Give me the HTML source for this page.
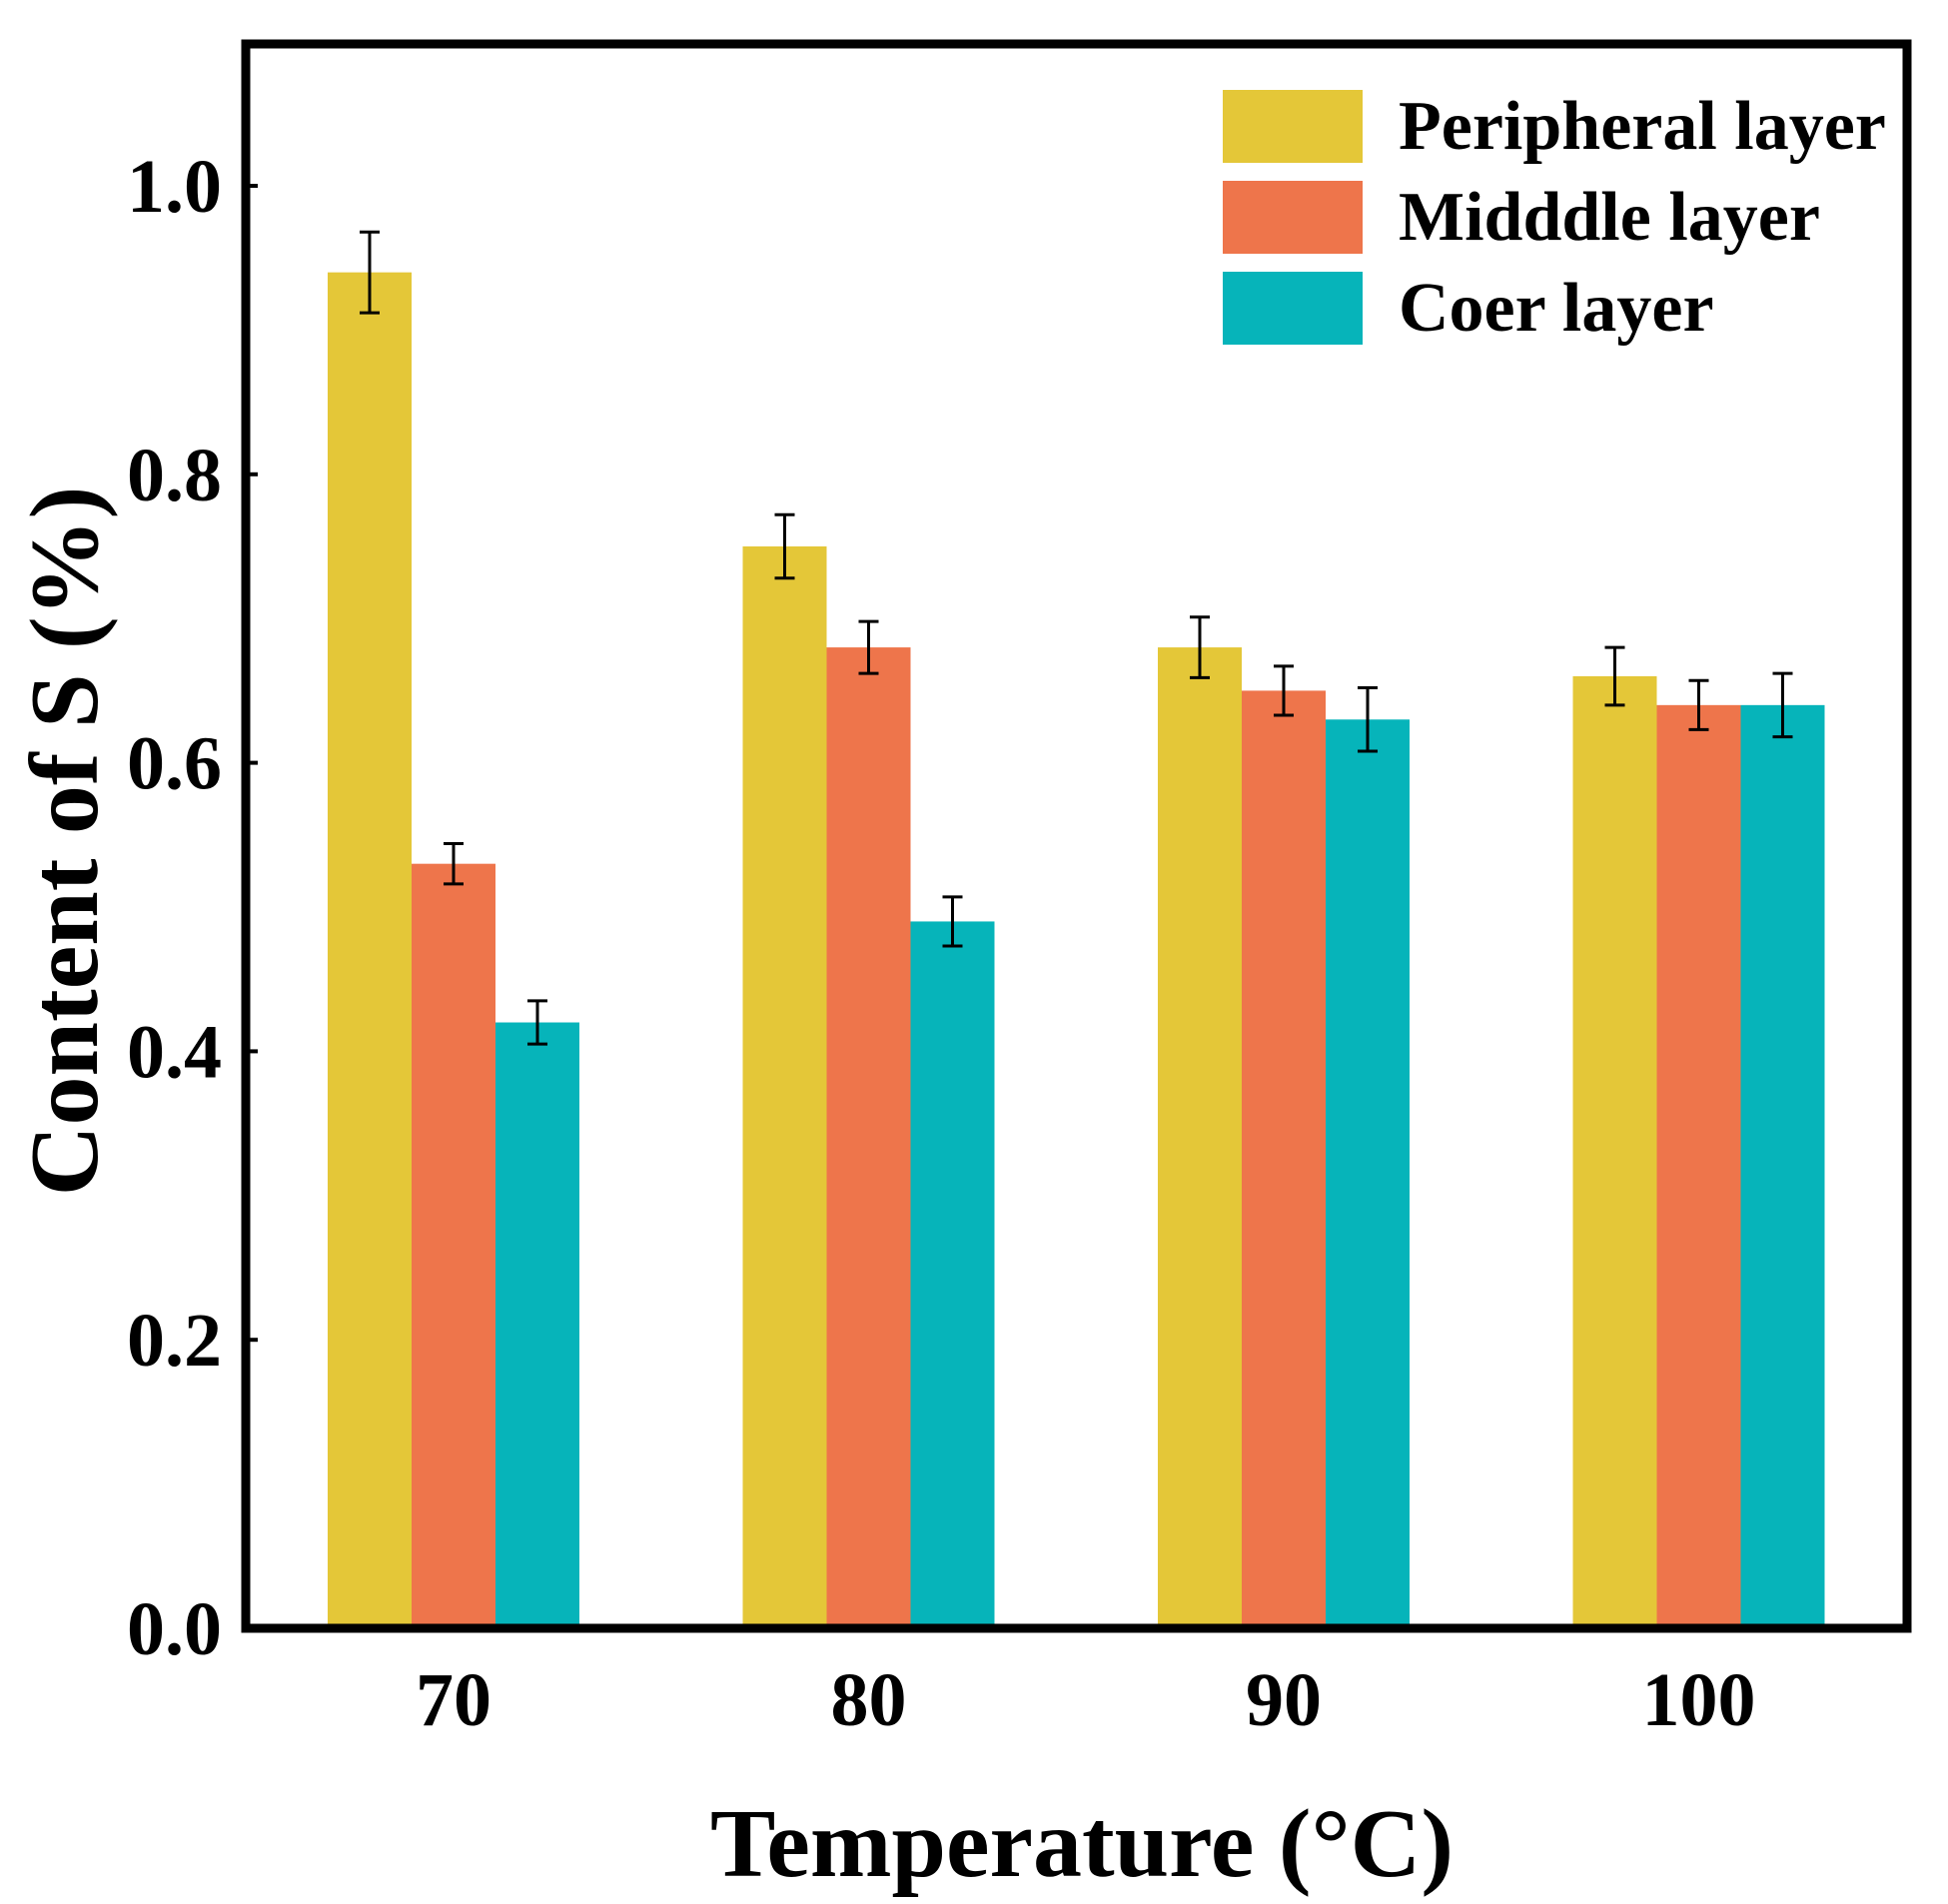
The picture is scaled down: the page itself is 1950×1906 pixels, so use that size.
<!DOCTYPE html>
<html><head><meta charset="utf-8"><style>
html,body{margin:0;padding:0;background:#fff;}
svg{display:block;font-family:"Liberation Serif",serif;font-weight:bold;}
</style></head><body>
<svg id="chart" width="1950" height="1906" viewBox="0 0 1950 1906" xmlns="http://www.w3.org/2000/svg">
<g id="bars"></g>
<g id="errs"></g>
<g id="axes"></g>
<g id="legend"></g>
<text x="1083" y="1878" font-size="98" text-anchor="middle">Temperature (°C)</text>
<text transform="translate(97,842) rotate(-90)" font-size="98" text-anchor="middle">Content of S (%)</text>
</svg>
<script>
const categories = ["70","80","90","100"];
const seriesNames = ["Peripheral layer","Midddle layer","Coer layer"];
const peripheral = [0.94,0.75,0.68,0.66];
const middle = [0.53,0.68,0.65,0.64];
const core = [0.42,0.49,0.63,0.64];
const peripheralErr = [0.028,0.022,0.021,0.020];
const middleErr = [0.014,0.018,0.017,0.017];
const coreErr = [0.015,0.017,0.022,0.022];
const yTicks = [0.0,0.2,0.4,0.6,0.8,1.0];
const yTickLabels = ["0.0","0.2","0.4","0.6","0.8","1.0"];
const colors = ["#E4C738","#EE754B","#06B4BA"];

const NS="http://www.w3.org/2000/svg";
const L=246,R=1909,T=44,B=1630;
const y=v=>B-(v/1.0)*(B-186);
const xc=i=>454+i*415.5;
const bw=84;
function mk(tag,attrs,parent){const e=document.createElementNS(NS,tag);for(const k in attrs)e.setAttribute(k,attrs[k]);parent.appendChild(e);return e;}
const bars=document.getElementById('bars'),errs=document.getElementById('errs'),axes=document.getElementById('axes'),legend=document.getElementById('legend');
const series=[peripheral,middle,core],errors=[peripheralErr,middleErr,coreErr];
series.forEach((s,si)=>{
  s.forEach((v,i)=>{
    const cx=xc(i)+(si-1)*bw;
    const r=mk('rect',{x:cx-bw/2,y:y(v),width:bw,height:B-y(v),fill:colors[si]},bars);
    
    
    const e=errors[si][i];
    const g=mk('g',{stroke:'#000','stroke-width':3},errs);
    
    
    mk('line',{x1:cx,x2:cx,y1:y(v+e),y2:y(v-e)},g);
    mk('line',{x1:cx-10,x2:cx+10,y1:y(v+e),y2:y(v+e)},g);
    mk('line',{x1:cx-10,x2:cx+10,y1:y(v-e),y2:y(v-e)},g);
  });
});
const frame=mk('rect',{x:L,y:T,width:R-L,height:B-T,fill:'none',stroke:'#000','stroke-width':9},axes);


yTicks.forEach((t,i)=>{
  const tk=mk('line',{x1:L,x2:L+12,y1:y(t),y2:y(t),stroke:'#000','stroke-width':4},axes);
  
  
  const tx=mk('text',{x:222,y:y(t)+26,'font-size':76,'text-anchor':'end'},axes);
  tx.textContent=yTickLabels[i];
  
  
});
categories.forEach((c,i)=>{
  const tx=mk('text',{x:xc(i),y:1727,'font-size':76,'text-anchor':'middle'},axes);
  tx.textContent=c;
  
  
});
seriesNames.forEach((n,i)=>{
  const yy=90+i*91;
  const sw=mk('rect',{x:1224,y:yy,width:140,height:73,fill:colors[i]},legend);
  
  
  const tx=mk('text',{x:1400,y:yy+59,'font-size':70},legend);
  tx.textContent=n;
  
  
});
</script>
</body></html>
